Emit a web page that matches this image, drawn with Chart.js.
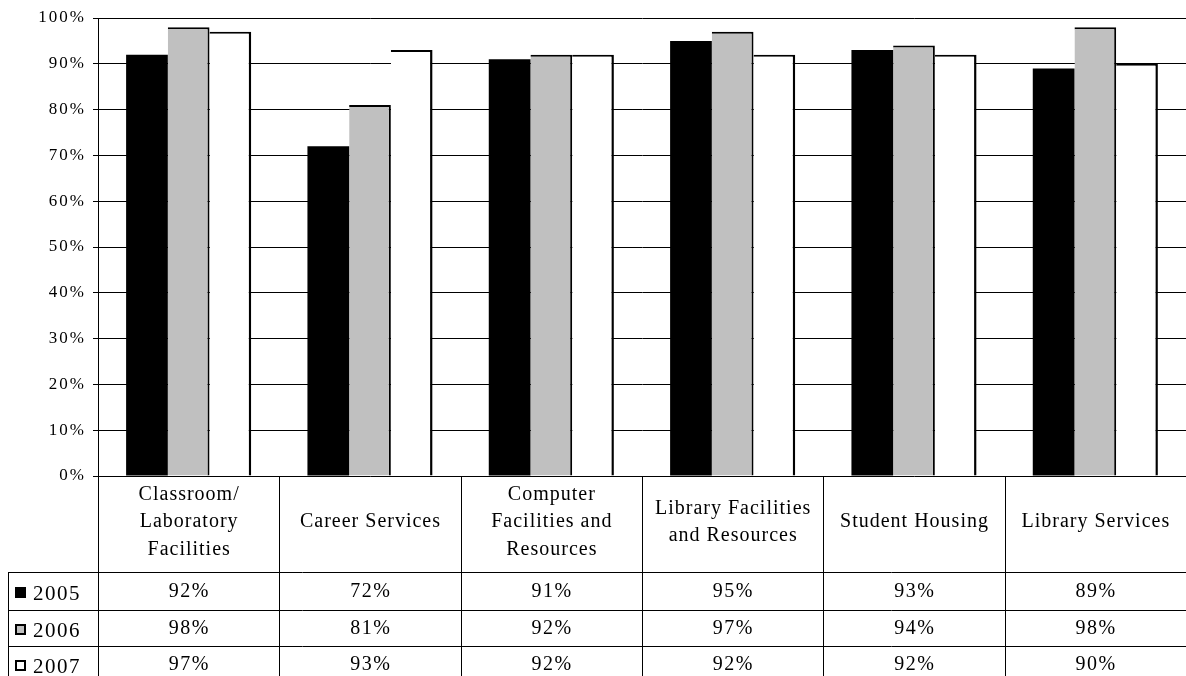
<!DOCTYPE html>
<html>
<head>
<meta charset="utf-8">
<script src="https://cdn.jsdelivr.net/npm/chart.js@4.4.0/dist/chart.umd.min.js"></script>
<style>
  html, body { margin: 0; padding: 0; background: #fff; }
  #contenedor { width: 1186px; height: 676px; }
</style>
</head>
<body>
<div id="contenedor"><canvas id="chart-servicios"></canvas></div>
<script>
/* Datos del gráfico */
var categorias = [
  ["Classroom/", "Laboratory", "Facilities"],
  ["Career Services"],
  ["Computer", "Facilities and", "Resources"],
  ["Library Facilities", "and Resources"],
  ["Student Housing"],
  ["Library Services"]
];
var anios = ["2005", "2006", "2007"];
var valores2005 = [92, 72, 91, 95, 93, 89];
var valores2006 = [98, 81, 92, 97, 94, 98];
var valores2007 = [97, 93, 92, 92, 92, 90];
var ticksY = [0, 10, 20, 30, 40, 50, 60, 70, 80, 90, 100];

var series = [valores2005, valores2006, valores2007];
var colores = ["#000000", "#c0c0c0", "#ffffff"];
var fuente = '"Liberation Serif", "Times New Roman", serif';

//------------------------------------------------------------------------------------------------
/* Tabla de datos debajo del gráfico */
var tablaDatos = {
  id: "tablaDatos",
  beforeDraw: function(chart) {
    chart.ctx.letterSpacing = "2px";
  },
  afterDraw: function(chart) {
    var ctx = chart.ctx;
    var area = chart.chartArea;
    var escalaX = chart.scales.x;
    var ancho = (area.right - area.left) / categorias.length;
    var bordeIzq = 8;
    var altoEtiquetas = 96;
    // bordes horizontales de las filas
    var filas = [area.bottom + altoEtiquetas, area.bottom + altoEtiquetas + 38, area.bottom + altoEtiquetas + 74, area.bottom + altoEtiquetas + 110];

    ctx.save();
    ctx.strokeStyle = "#000";
    ctx.lineWidth = 1;
    ctx.beginPath();
    // columnas (la última queda en el borde del lienzo)
    for (var i = 0; i < categorias.length; i++) {
      var x = Math.round(area.left + i * ancho) + 0.5;
      ctx.moveTo(x, area.bottom);
      ctx.lineTo(x, chart.height);
    }
    // filas
    for (var f = 0; f < 3; f++) {
      var y = Math.round(filas[f]) + 0.5;
      ctx.moveTo(bordeIzq, y);
      ctx.lineTo(area.right, y);
    }
    ctx.moveTo(bordeIzq + 0.5, filas[0]);
    ctx.lineTo(bordeIzq + 0.5, chart.height);
    ctx.stroke();

    // nombres de las categorías
    var espaciado = 1;
    ctx.letterSpacing = espaciado + "px";
    ctx.font = "20px " + fuente;
    ctx.fillStyle = "#000";
    ctx.textAlign = "center";
    ctx.textBaseline = "middle";
    var centroY = area.bottom + 46;
    var alto = 27.5;
    categorias.forEach(function(lineas, i) {
      var cx = escalaX.getPixelForValue(i) + espaciado / 2;
      var y0 = centroY - (lineas.length - 1) * alto / 2;
      lineas.forEach(function(t, k) {
        ctx.fillText(t, cx, y0 + k * alto);
      });
    });

    // valores y leyenda
    espaciado = 1.5;
    ctx.letterSpacing = espaciado + "px";
    for (var r = 0; r < series.length; r++) {
      var yc = (filas[r] + filas[r + 1]) / 2 + 1;
      ctx.font = "20px " + fuente;
      ctx.textAlign = "center";
      series[r].forEach(function(v, i) {
        ctx.fillText(v + "%", escalaX.getPixelForValue(i) + espaciado / 2, yc);
      });
      ctx.fillStyle = colores[r];
      ctx.fillRect(15, yc - 5, 11, 11);
      if (r > 0) {
        ctx.lineWidth = 2;
        ctx.strokeRect(16, yc - 4, 9, 9);
      }
      ctx.fillStyle = "#000";
      ctx.textAlign = "left";
      ctx.font = "21px " + fuente;
      ctx.fillText(anios[r], 33, yc + 2);
    }
    ctx.restore();
  }
};

//------------------------------------------------------------------------------------------------
/* Gráfico de barras */
var ctx = document.getElementById("chart-servicios").getContext("2d");

new Chart(ctx, {
  type: "bar",
  data: {
    labels: categorias.map(function(c) { return c.join(" "); }),
    datasets: [{
      label: anios[0],
      data: valores2005,
      backgroundColor: colores[0],
      borderColor: "#000",
      borderWidth: 0
    }, {
      label: anios[1],
      data: valores2006,
      backgroundColor: colores[1],
      borderColor: "#000",
      borderWidth: { top: 2, right: 2, left: 0, bottom: 0 }
    }, {
      label: anios[2],
      data: valores2007,
      backgroundColor: colores[2],
      borderColor: "#000",
      borderWidth: { top: 2, right: 2.5, left: 0, bottom: 0 }
    }]
  },
  options: {
    responsive: true,
    maintainAspectRatio: false,
    animation: false,
    devicePixelRatio: 1,
    layout: {
      padding: { top: 18, bottom: 200, left: 0, right: 0 }
    },
    datasets: {
      bar: {
        barPercentage: 1,
        categoryPercentage: 0.69,
        borderSkipped: "bottom"
      }
    },
    plugins: {
      legend: { display: false },
      tooltip: { enabled: false }
    },
    scales: {
      x: {
        display: false
      },
      y: {
        min: 0,
        max: 100,
        afterFit: function(scale) { scale.width = 98; },
        afterBuildTicks: function(scale) {
          scale.ticks = ticksY.map(function(v) { return { value: v }; });
        },
        grid: {
          color: "#000",
          lineWidth: 1,
          drawTicks: true,
          tickLength: 5,
          tickColor: "#000"
        },
        border: {
          color: "#000",
          width: 1
        },
        ticks: {
          padding: 7,
          color: "#000",
          font: { size: 17, family: fuente },
          callback: function(v) { return v + "%"; }
        }
      }
    }
  },
  plugins: [tablaDatos]
});
</script>
</body>
</html>
